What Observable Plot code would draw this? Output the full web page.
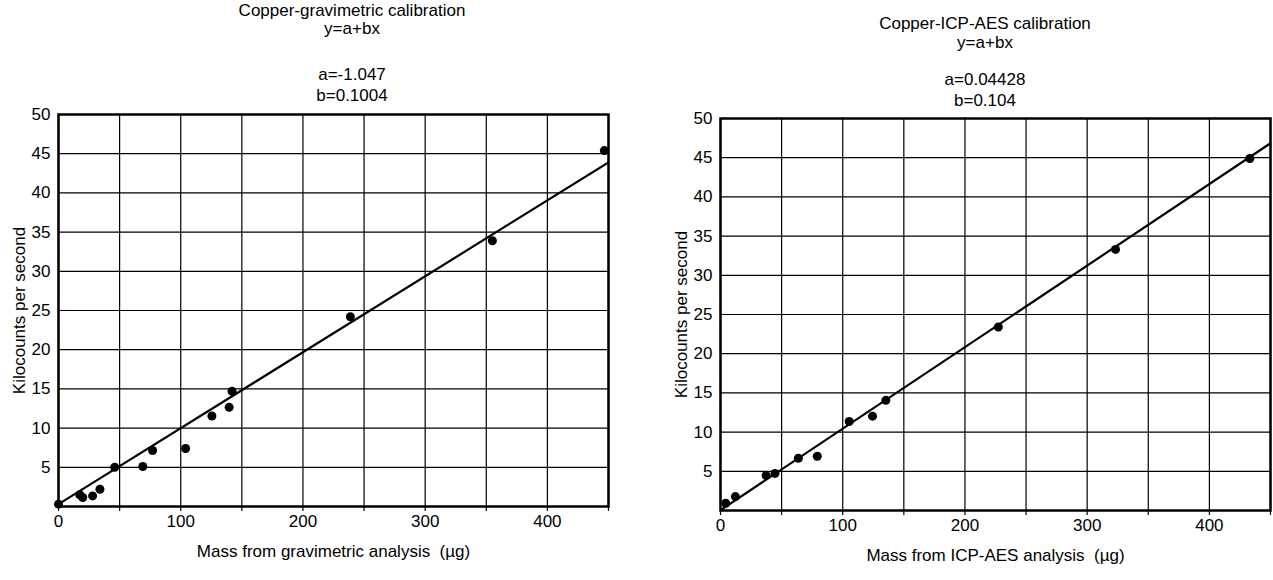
<!DOCTYPE html>
<html><head><meta charset="utf-8">
<script src="https://cdn.jsdelivr.net/npm/d3@7"></script>
<script src="https://cdn.jsdelivr.net/npm/@observablehq/plot@0.6"></script>
<style>
body{margin:0;background:#fff;font-family:"Liberation Sans",Arial,sans-serif;}
#wrap{position:relative;width:1273px;height:580px;overflow:hidden;background:#fff}
.t{position:absolute;transform:translate(-50%,-50%);font-size:17px;white-space:nowrap;color:#000;line-height:1;z-index:2}
</style></head><body><div id="wrap"></div>
<script>
// Left chart: gravimetric
const gravMass = [0, 17.4, 19.8, 27.9, 33.9, 46, 69, 77, 104, 125.5, 139.6, 142, 238.8, 355, 446.6];
const gravKcps = [0.3, 1.5, 1.15, 1.35, 2.2, 5.0, 5.1, 7.15, 7.4, 11.55, 12.65, 14.7, 24.2, 33.9, 45.4];
const gravFitMass = [0, 450];
const gravFitKcps = [0.3, 43.9];
// Right chart: ICP-AES
const icpMass = [4.3, 12.2, 37.3, 44.6, 63.7, 79.2, 105.3, 124.4, 135.3, 227.3, 323.2, 433.1];
const icpKcps = [0.93, 1.77, 4.47, 4.73, 6.67, 6.92, 11.35, 12.03, 14.05, 23.4, 33.3, 44.9];
const icpFitMass = [0, 450];
const icpFitKcps = [0.04, 46.84];

const xGridTicks = [0, 50, 100, 150, 200, 250, 300, 350, 400, 450];
const xLabelTicks = [0, 100, 200, 300, 400];
const yTicks = [5, 10, 15, 20, 25, 30, 35, 40, 45, 50];
const yGridTicks = [0, 5, 10, 15, 20, 25, 30, 35, 40, 45, 50];

const panels = [
  {title: "Copper-gravimetric calibration", eq: "y=a+bx", aText: "a=-1.047", bText: "b=0.1004",
   xLabel: "Mass from gravimetric analysis  (µg)", mass: gravMass, kcps: gravKcps,
   fitX: gravFitMass, fitY: gravFitKcps,
   left: 0, top: 100, width: 636, mL: 58, mR: 28, titleX: 352, titleY: [10, 28, 74, 95]},
  {title: "Copper-ICP-AES calibration", eq: "y=a+bx", aText: "a=0.04428", bText: "b=0.104",
   xLabel: "Mass from ICP-AES analysis  (µg)", mass: icpMass, kcps: icpKcps,
   fitX: icpFitMass, fitY: icpFitKcps,
   left: 636, top: 104, width: 637, mL: 84, mR: 3, titleX: 985, titleY: [23, 42, 79, 100]}
];

const wrap = document.getElementById("wrap");
for (const p of panels) {
  const pts = p.mass.map((m, i) => ({x: m, y: p.kcps[i]}));
  const fit = p.fitX.map((x, i) => ({x, y: p.fitY[i]}));
  const chart = Plot.plot({
    width: p.width, height: 476,
    marginLeft: p.mL, marginRight: p.mR, marginTop: 14, marginBottom: 70,
    style: {fontFamily: "Liberation Sans, Arial, sans-serif", fontSize: "17px", color: "#000", background: "transparent", overflow: "visible"},
    x: {domain: [0, 450], ticks: xGridTicks},
    y: {domain: [0, 50], ticks: yTicks},
    marks: [
      Plot.gridX(xGridTicks, {stroke: "#000", strokeOpacity: 1, strokeWidth: 1.2}),
      Plot.gridY(yGridTicks, {stroke: "#000", strokeOpacity: 1, strokeWidth: 1.2}),
      Plot.axisX(xGridTicks, {tickSize: 5, tickPadding: 3, stroke: "#000", strokeWidth: 1.2,
        tickFormat: d => (xLabelTicks.includes(d) ? String(d) : ""), fontSize: 17,
        label: p.xLabel, labelAnchor: "center", labelArrow: "none", labelOffset: 50}),
      Plot.axisY(yTicks, {tickSize: 0, tickPadding: 8, fontSize: 17,
        label: "Kilocounts per second", labelAnchor: "center", labelArrow: "none", labelOffset: 46}),
      Plot.line(fit, {x: "x", y: "y", stroke: "#000", strokeWidth: 2.2, clip: true}),
      Plot.dot(pts, {x: "x", y: "y", r: 4.5, fill: "#000", stroke: "none"}),
      Plot.frame({stroke: "#000", strokeWidth: 2.5})
    ]
  });
  chart.style.position = "absolute";
  chart.style.left = p.left + "px";
  chart.style.top = p.top + "px";
  wrap.appendChild(chart);
  const texts = [p.title, p.eq, p.aText, p.bText];
  texts.forEach((s, i) => {
    const d = document.createElement("div");
    d.className = "t";
    d.textContent = s;
    d.style.left = p.titleX + "px";
    d.style.top = p.titleY[i] + "px";
    wrap.appendChild(d);
  });
}
</script></body></html>
